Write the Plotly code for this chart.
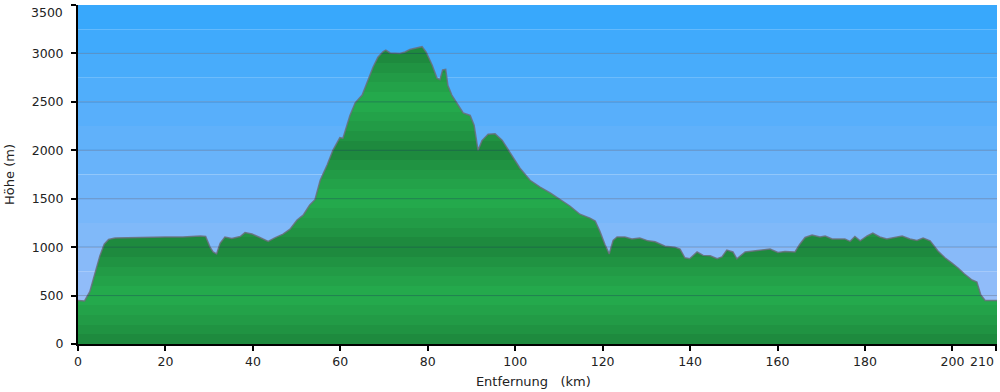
import plotly.graph_objects as go

dist_km = [0, 1.5, 2.7, 3.9, 5.0, 6.0, 7.0, 8.5, 12, 16, 20, 24, 26, 28, 29.2, 30.2, 30.9, 31.7,
           32.5, 33.6, 35.2, 37.1, 38.2, 39.8, 41.6, 43.5, 45, 46.9, 48.5, 50.1, 51.5, 53, 54.2,
           55.4, 57, 58.3, 59.9, 60.6, 62.2, 63.4, 65, 66.3, 67.5, 68.6, 69.8, 70.4, 71.4, 73.6,
           74.8, 75.9, 77.8, 78.7, 79.6, 81, 82.1, 82.8, 83.4, 84.1, 84.6, 85.5, 86.9, 88.1, 89.7,
           90.6, 91.5, 92.4, 93.8, 95.4, 97, 98.8, 101.1, 103.4, 105.7, 108, 110.2, 112.5, 114.8,
           117.1, 118.3, 119.4, 120.5, 121.5, 122.4, 123.3, 125.1, 126.7, 128.5, 130.4, 132, 134.3,
           136.5, 137.7, 138.8, 139.9, 141.6, 143, 144.6, 146.2, 147.3, 148.4, 149.8, 150.7, 152.6,
           154.8, 156.7, 158.3, 160.1, 161.7, 164, 165.1, 166.3, 167.9, 169.7, 170.9, 172.5, 175.4,
           176.6, 177.7, 178.9, 180.5, 181.8, 183.4, 185, 186.9, 188.5, 190.3, 191.9, 193.3, 194.9,
           196.7, 198.3, 199.9, 201.3, 202.7, 204.5, 205.6, 206.5, 207.5, 210.2]

elev_m = [450, 445, 540, 730, 910, 1030, 1080, 1095, 1100, 1100, 1105, 1105, 1110, 1115, 1110, 1000, 950, 930,
          1040, 1105, 1090, 1110, 1150, 1135, 1100, 1060, 1095, 1135, 1185, 1280, 1330, 1435, 1490,
          1690, 1850, 2000, 2130, 2125, 2360, 2490, 2570, 2725, 2860, 2960, 3020, 3035, 3005, 3000,
          3015, 3040, 3065, 3070, 3015, 2880, 2745, 2730, 2830, 2835, 2670, 2570, 2470, 2385, 2360,
          2260, 2000, 2100, 2165, 2170, 2105, 1980, 1815, 1690, 1620, 1560, 1495, 1425, 1340,
          1300, 1270, 1160, 1030, 930, 1070, 1105, 1105, 1085, 1095, 1065, 1055, 1010,
          1000, 980, 890, 880, 950, 915, 910, 880, 900, 970, 950, 880, 950,
          960, 975, 980, 945, 955, 950, 1030, 1100, 1125, 1105, 1115, 1085, 1085,
          1060, 1110, 1065, 1115, 1145, 1105, 1085, 1105, 1115, 1085, 1070, 1095, 1065,
          960, 890, 835, 785, 725, 660, 640, 505, 450, 450]

x_ticks = [0, 20, 40, 60, 80, 100, 120, 140, 160, 180, 200, 210]
y_ticks = [0, 500, 1000, 1500, 2000, 2500, 3000, 3500]

Y_MAX = 3500
X_MAX = 210.2

# stepped green gradient, period 1000 m (dark at multiples of 1000, light near 500)
dark = (29, 132, 59)
light = (37, 172, 78)
n_steps = 35
cs = []
for i in range(n_steps):
    mid = (i * 100 + 50) % 1000
    t = 1 - abs(mid - 500) / 500.0
    t = t ** 0.8
    c = tuple(int(round(dark[k] + (light[k] - dark[k]) * t)) for k in range(3))
    col = f"rgb{c}"
    cs.append([i / n_steps, col])
    cs.append([(i + 1) / n_steps, col])

fig = go.Figure()
fig.add_trace(go.Scatter(
    x=dist_km, y=elev_m, mode="lines", fill="tozeroy",
    line=dict(color="rgba(105,110,122,0.85)", width=1.5),
    fillgradient=dict(type="vertical", colorscale=cs, start=0, stop=Y_MAX),
    hoverinfo="skip", showlegend=False,
))

# stepped blue background
top = (56, 168, 252)
bot = (160, 192, 248)
nb = 14
shapes = []
for i in range(nb):
    t = i / (nb - 1)
    c = tuple(int(round(top[k] + (bot[k] - top[k]) * t)) for k in range(3))
    y1 = 1 - i / nb
    y0 = 1 - (i + 1) / nb
    shapes.append(dict(type="rect", xref="paper", yref="paper", x0=0, x1=1, y0=y0, y1=y1,
                       fillcolor=f"rgb{c}", line=dict(width=0), layer="below"))
# grid lines drawn above the fill
for v in y_ticks[1:-1]:
    shapes.append(dict(type="line", xref="paper", yref="y", x0=0, x1=1, y0=v, y1=v,
                       line=dict(color="rgba(25,50,90,0.33)", width=1), layer="above"))
fig.update_layout(shapes=shapes)

font = dict(family="DejaVu Sans, Verdana, sans-serif", size=12.5, color="#222222")
title_font = dict(family="DejaVu Sans, Verdana, sans-serif", size=13, color="#222222")

# edge tick labels (kept inside the figure like the original)
x_text = [str(v) for v in x_ticks[:-1]] + [""]
y_text = [str(v) for v in y_ticks[:-1]] + [""]
fig.add_annotation(x=x_ticks[-1], y=0, xref="x", yref="paper", text=str(x_ticks[-1]),
                   showarrow=False, xanchor="right", yanchor="top", xshift=0, yshift=-8,
                   font=font)
fig.add_annotation(x=0, y=y_ticks[-1], xref="paper", yref="y", text=str(y_ticks[-1]),
                   showarrow=False, xanchor="right", yanchor="top", xshift=-13, yshift=2,
                   font=font)

fig.update_layout(
    width=1000, height=392,
    margin=dict(l=78, r=3, t=5, b=48, autoexpand=False),
    paper_bgcolor="white", plot_bgcolor="rgba(0,0,0,0)",
    font=font,
    xaxis=dict(range=[0, X_MAX], tickvals=x_ticks, ticktext=x_text,
               showgrid=False, zeroline=False, showline=True, linecolor="black", linewidth=2,
               ticks="outside", ticklen=5, tickwidth=2, tickcolor="black", automargin=False,
               title=dict(text="Entfernung&nbsp;&nbsp;&nbsp;(km)&nbsp;&nbsp;", standoff=9,
                          font=title_font)),
    yaxis=dict(range=[0, Y_MAX], tickvals=y_ticks, ticktext=y_text,
               showgrid=False, zeroline=False, showline=True, linecolor="black", linewidth=2,
               ticks="outside", ticklen=5, tickwidth=2, tickcolor="black", automargin=False,
               ticklabelstandoff=5,
               title=dict(text="Höhe (m)", standoff=14, font=title_font)),
)

fig.write_html("out.html", config={"displayModeBar": False},
               post_script="document.body.style.margin='0';document.body.style.overflow='hidden';")
